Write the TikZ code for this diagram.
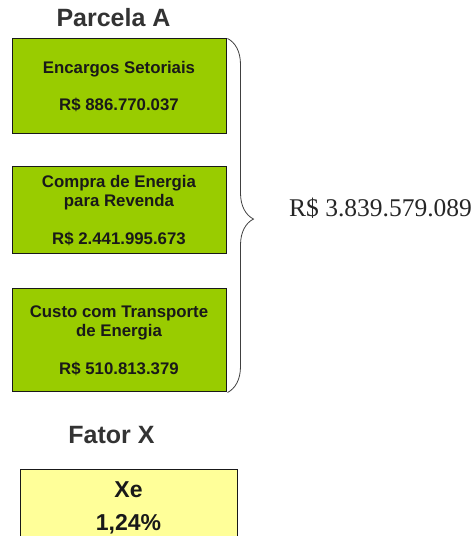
\documentclass[tikz,border=0pt]{standalone}
\usepackage{fontspec}
\setmainfont{Liberation Serif}
\newfontfamily\arialfont{Liberation Sans}
\usetikzlibrary{positioning, decorations.pathreplacing}

\definecolor{parcelaverde}{RGB}{153,204,0}
\definecolor{fatoramarelo}{RGB}{255,255,153}

\begin{document}
\begin{tikzpicture}[
            x=1pt,
            y=1pt,
            titulo/.style={font=\arialfont\bfseries\fontsize{25}{30}\selectfont, text=black!80, inner sep=0pt},
            caixa/.style={draw=black!90, line width=1pt, fill=parcelaverde, minimum width=214pt,
                          align=center, inner sep=0pt, text=black!90,
                          font=\arialfont\bfseries\fontsize{16.8}{19.5}\selectfont},
            fatorcaixa/.style={draw=black!90, line width=1pt, fill=fatoramarelo, minimum width=217pt,
                          minimum height=75pt, align=center, inner sep=0pt, text=black!90,
                          font=\arialfont\bfseries\fontsize{23}{27}\selectfont},
            chave/.style={decorate, decoration={brace, amplitude=26pt, aspect=0.51},
                          draw=black!75, line width=0.8pt}
            ]

            \clip (0,0) rectangle (475,536);

            % Parcela A
            \node[titulo] (parcela) at (113.5,518) {Parcela A};

            \node[caixa, minimum height=95pt] (encargos) at (119,449.5)
                {Encargos Setoriais\\[18pt]R\$ 886.770.037};
            \node[caixa, minimum height=87pt] (compra) at (119,325.5)
                {Compra de Energia\\para Revenda\\[18pt]R\$ 2.441.995.673};
            \node[caixa, minimum height=103pt] (transporte) at (119,195.5)
                {Custo com Transporte\\de Energia\\[18pt]R\$ 510.813.379};

            % chave com o total
            \coordinate (chavetopo) at ([xshift=1pt]encargos.north east);
            \coordinate (chavebase) at ([xshift=1pt]transporte.south east);
            \draw[chave] (chavetopo) -- (chavebase);
            \node[anchor=west, inner sep=0pt, text=black!85, font=\fontsize{25.5}{30}\selectfont]
                (total) at (289,327.5) {R\$ 3.839.579.089};

            % Fator X
            \node[titulo] (fator) at (111.5,101) {Fator X};
            \node[fatorcaixa] (xe) at (128.5,28.5) {Xe\\[6pt]1,24\%};
        \end{tikzpicture}
\end{document}
